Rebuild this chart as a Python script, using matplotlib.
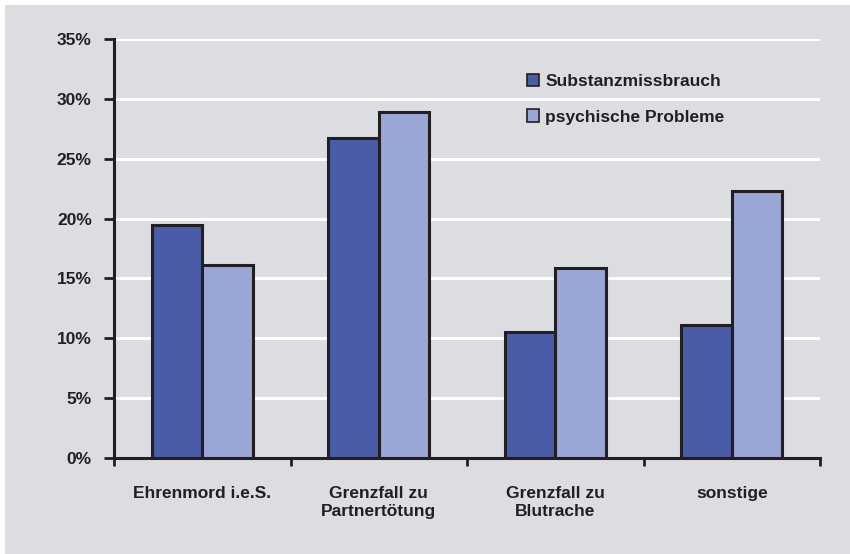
import numpy as np
import matplotlib.pyplot as plt
from matplotlib.patches import Rectangle

categories = ["Ehrenmord i.e.S.", "Grenzfall zu\nPartnertötung", "Grenzfall zu\nBlutrache", "sonstige"]
substanz = [19.5, 26.7, 10.5, 11.1]
psychisch = [16.1, 28.9, 15.9, 22.3]
series_names = ["Substanzmissbrauch", "psychische Probleme"]
yticks = [0, 5, 10, 15, 20, 25, 30, 35]

bg = "#dcdde0"
ink = "#231f20"
plt.rcParams['font.family'] = ['Liberation Sans', 'DejaVu Sans']
plt.rcParams['font.weight'] = 'bold'

fig = plt.figure(figsize=(8.5, 5.54), dpi=100)
fig.patch.set_facecolor("white")
# grey panel with a thin white border top/left
fig.patches.append(Rectangle((5 / 850, 0), 1, 549 / 554, transform=fig.transFigure,
                             facecolor=bg, edgecolor="none", zorder=-10))

ax = fig.add_axes([114 / 850, 96 / 554, 706 / 850, 419 / 554])
ax.set_facecolor(bg)

x = np.arange(len(categories))
w = 0.285
ax.bar(x - w / 2, substanz, w, color="#4a5ca8", edgecolor=ink, linewidth=2.2,
       label=series_names[0], zorder=3)
ax.bar(x + w / 2, psychisch, w, color="#99a6d6", edgecolor=ink, linewidth=2.2,
       label=series_names[1], zorder=3)

ax.set_ylim(0, 35)
ax.set_xlim(-0.5, len(categories) - 0.5)
ax.set_yticks(yticks)
ax.set_yticklabels([f"{v}%" for v in yticks])
ax.yaxis.grid(True, color="white", linewidth=2.2, zorder=0)
ax.set_axisbelow(True)

# x ticks at category boundaries, labels centered
ax.set_xticks(np.arange(len(categories) + 1) - 0.5)
ax.set_xticklabels([])
ax.set_xticks(x, minor=True)
ax.set_xticklabels(categories, minor=True, linespacing=1.3)
ax.tick_params(axis="x", which="minor", length=0, pad=20, labelsize=12.5, labelcolor=ink)
ax.tick_params(axis="x", which="major", direction="out", length=6, width=2, color=ink)
ax.tick_params(axis="y", direction="out", length=7, width=2, color=ink, pad=9,
               labelsize=12.5, labelcolor=ink)

for s in ["top", "right"]:
    ax.spines[s].set_visible(False)
ax.spines["left"].set_linewidth(2.2)
ax.spines["bottom"].set_linewidth(2.2)
ax.spines["left"].set_color(ink)
ax.spines["bottom"].set_color(ink)

leg = ax.legend(loc="upper left", bbox_to_anchor=(0.563, 0.953), frameon=False,
                fontsize=12.5, handlelength=0.7, handleheight=0.7, handletextpad=0.35,
                labelspacing=1.15)
for t in leg.get_texts():
    t.set_color(ink)
for h in leg.legend_handles:
    h.set_linewidth(1.2)

fig.savefig("out.png", dpi=100, facecolor=fig.get_facecolor())
